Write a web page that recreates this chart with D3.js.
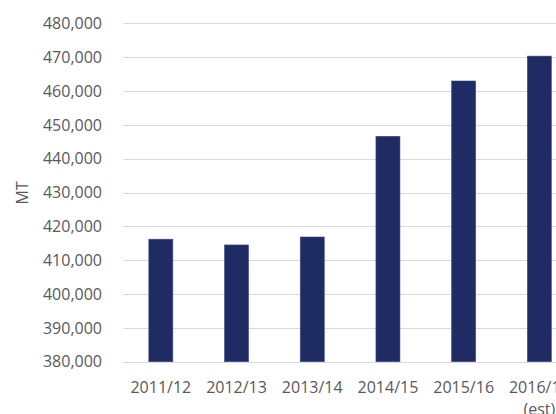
<!DOCTYPE html>
<html><head><meta charset="utf-8">
<script src="https://cdn.jsdelivr.net/npm/d3@7"></script>
<style>body{margin:0;background:#fff}svg{display:block}</style>
</head><body>
<script>
const categories = ["2011/12","2012/13","2013/14","2014/15","2015/16","2016/17\n(est)"];
const values = [416200, 414500, 416850, 446600, 462950, 470300];
const yTicks = [380000,390000,400000,410000,420000,430000,440000,450000,460000,470000,480000];
const yLabel = "MT";

(function() {
const W = 556, H = 414;
const svg = d3.select("body").append("svg").attr("width", W).attr("height", H);
const mLeft = 123, mRight = 577.2, mTop = 23.3, mBottom = 361.7;
const font = "'Open Sans', 'Liberation Sans', sans-serif";
const grey = "#595959";

const y = d3.scaleLinear().domain([380000, 480000]).range([mBottom, mTop]);
const x = d3.scaleBand().domain(categories).range([mLeft, mRight]).paddingInner(0.683).paddingOuter(0.3415);

svg.append("g").selectAll("line").data(yTicks).join("line")
  .attr("x1", mLeft).attr("x2", mRight)
  .attr("y1", d => Math.round(y(d)) + 0.5).attr("y2", d => Math.round(y(d)) + 0.5)
  .attr("stroke", "#d9d9d9").attr("stroke-width", 1);

const fmt = d3.format(",");
svg.append("g").selectAll("text").data(yTicks).join("text")
  .attr("x", 102).attr("y", d => y(d)).attr("dy", "0.36em")
  .attr("text-anchor", "end").attr("font-family", font).attr("font-size", 16)
  .attr("fill", grey).text(d => fmt(d));

svg.append("g").selectAll("rect").data(values).join("rect")
  .attr("x", (d, i) => x(categories[i])).attr("width", x.bandwidth())
  .attr("y", d => y(d)).attr("height", d => y(380000) - y(d))
  .attr("fill", "#1f2c64").attr("stroke", "#3a4a86").attr("stroke-width", 0.6);

const xl = svg.append("g").selectAll("text").data(categories).join("text")
  .attr("x", d => x(d) + x.bandwidth() / 2).attr("y", 393)
  .attr("text-anchor", "middle").attr("font-family", font).attr("font-size", 16)
  .attr("fill", grey);
xl.each(function(d) {
  const lines = d.split("\n");
  const sel = d3.select(this);
  lines.forEach((t, i) => {
    sel.append("tspan").attr("x", sel.attr("x"))
      .attr("dy", i === 0 ? 0 : 22).text(t);
  });
});

svg.append("text").attr("transform", `translate(28,193) rotate(-90)`)
  .attr("text-anchor", "middle").attr("font-family", font).attr("font-size", 16)
  .attr("fill", grey).text(yLabel);
})();
</script>
</body></html>
